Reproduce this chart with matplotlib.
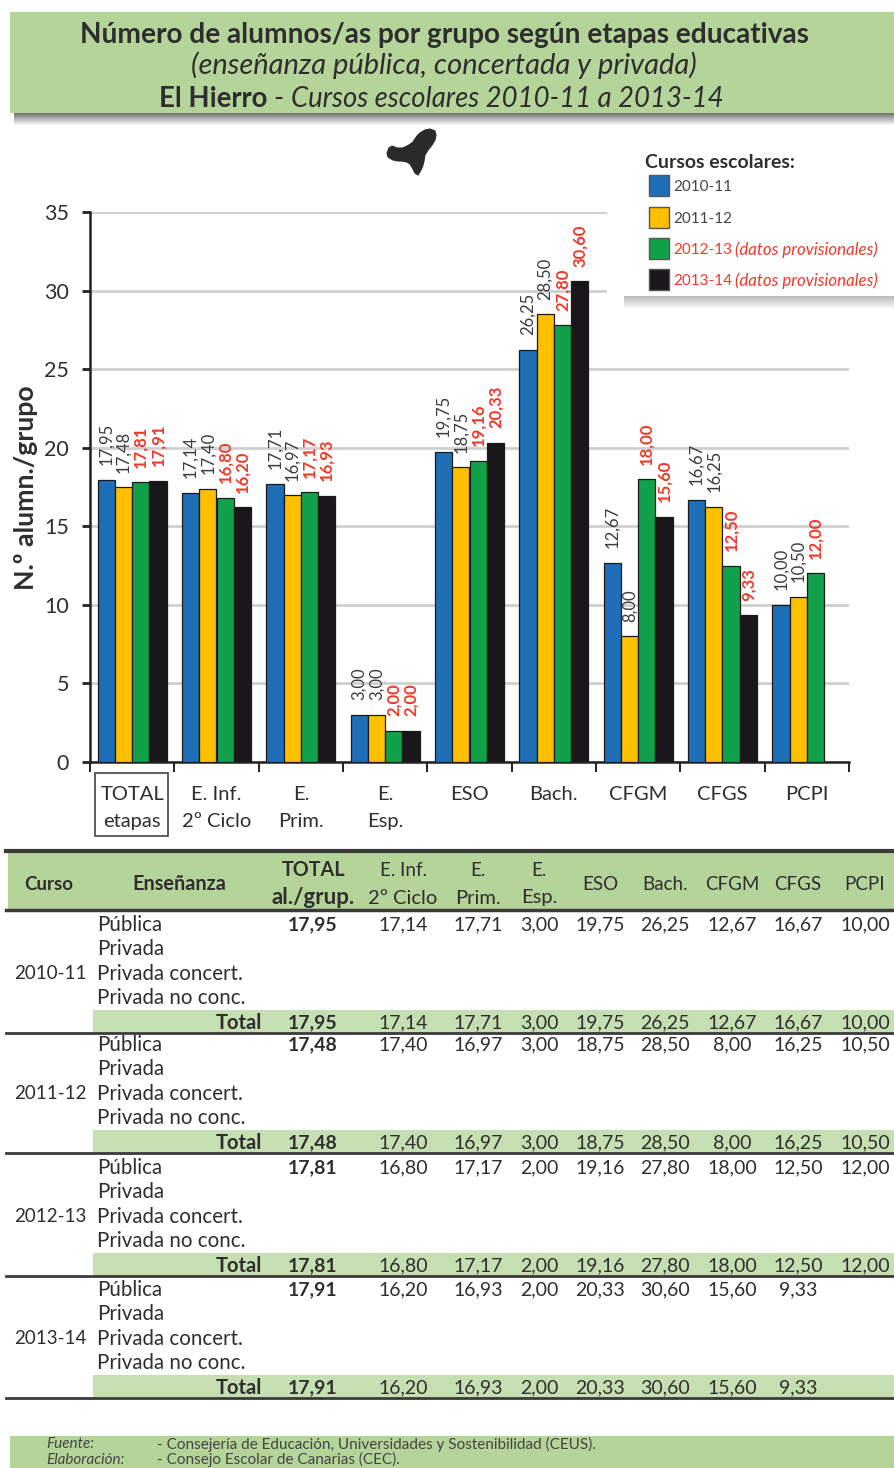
import numpy as np
import matplotlib
matplotlib.use("Agg")
import matplotlib.pyplot as plt
from matplotlib.patches import Rectangle, Polygon

plt.rcParams["font.family"] = ["Lato", "DejaVu Sans"]

# Data
cursos = ["2010-11", "2011-12", "2012-13", "2013-14"]
grupos = ["TOTAL\netapas", "E. Inf.\n2º Ciclo", "E.\nPrim.", "E.\nEsp.", "ESO", "Bach.", "CFGM", "CFGS", "PCPI"]
v_2010 = [17.95, 17.14, 17.71, 3.00, 19.75, 26.25, 12.67, 16.67, 10.00]
v_2011 = [17.48, 17.40, 16.97, 3.00, 18.75, 28.50, 8.00, 16.25, 10.50]
v_2012 = [17.81, 16.80, 17.17, 2.00, 19.16, 27.80, 18.00, 12.50, 12.00]
v_2013 = [17.91, 16.20, 16.93, 2.00, 20.33, 30.60, 15.60, 9.33, None]
series = [v_2010, v_2011, v_2012, v_2013]
colores = ["#1F6FB8", "#FFC000", "#12A14B", "#1A171B"]
ensenanzas = ["Pública", "Privada", "Privada concert.", "Privada no conc."]
cabecera = ["TOTAL\nal./grup.", "E. Inf.\n2º Ciclo", "E.\nPrim.", "E.\nEsp.", "ESO", "Bach.", "CFGM", "CFGS", "PCPI"]

VERDE = "#B5D49A"
VERDE2 = "#C6DFB2"
TXT = "#2E2E2E"
ROJO = "#EE3B2B"
W, H = 894, 1468

fig = plt.figure(figsize=(W / 100, H / 100), dpi=100)


def px_axes(x0, y0, x1, y1, **kw):
    return fig.add_axes([x0 / W, 1 - y1 / H, (x1 - x0) / W, (y1 - y0) / H], **kw)


# -------------------------------
# Chart
# -------------------------------
ax = px_axes(90, 212, 849, 762)
n = len(grupos)
x = np.arange(n)
ancho = 0.205
for i, vals in enumerate(series):
    for j, v in enumerate(vals):
        if v is None:
            continue
        xb = x[j] + (i - 1.5) * ancho
        ax.bar(xb, v, ancho, color=colores[i], edgecolor="#1A1A1A", linewidth=0.9, zorder=3)
        rojo = i >= 2
        ax.annotate(f"{v:.2f}".replace(".", ","), (xb, v), xytext=(0, 10.5), textcoords="offset points",
                    rotation=90, ha="center", va="bottom", fontsize=12,
                    fontweight="bold" if rojo else "normal", color=ROJO if rojo else "#3C3C3C",
                    zorder=4)

ax.set_xlim(-0.5, n - 0.5)
ax.set_ylim(0, 35)
ax.set_yticks(range(0, 40, 5))
ax.tick_params(axis="y", labelsize=15.5, length=6, width=2, color="#222222", labelcolor=TXT, pad=9)
ax.set_xticks(np.arange(n + 1) - 0.5)
ax.set_xticklabels([])
ax.tick_params(axis="x", which="major", length=7, width=1.4, color="#222222")
ax.set_xticks(x, minor=True)
labs = ax.set_xticklabels(grupos, minor=True, fontsize=14.5, color=TXT)
for t in labs:
    t.set_linespacing(1.72)
ax.tick_params(axis="x", which="minor", length=0, pad=17)
ax.grid(axis="y", color="#CFCFCF", linewidth=2, zorder=0)
ax.set_axisbelow(True)
for s in ["top", "right"]:
    ax.spines[s].set_visible(False)
ax.spines["left"].set_linewidth(1.8)
ax.spines["bottom"].set_linewidth(1.8)
ax.spines["left"].set_color("#222222")
ax.spines["bottom"].set_color("#222222")

# -------------------------------
# Overlay in pixel coordinates
# -------------------------------
ov = px_axes(0, 0, W, H, zorder=5)
ov.set_xlim(0, W)
ov.set_ylim(H, 0)
ov.axis("off")
ov.patch.set_alpha(0)


def rect(x0, y0, x1, y1, c, z=1, **kw):
    ov.add_patch(Rectangle((x0, y0), x1 - x0, y1 - y0, facecolor=c, edgecolor="none", zorder=z, **kw))


def sombra(x0, y0, x1, alto, ini=0.42):
    for k in range(alto):
        g = ini + (1 - ini) * (k + 1) / alto
        rect(x0, y0 + k, x1, y0 + k + 1, str(g))


ov.text(26, 488, "N.º alumn./grupo", rotation=90, ha="center", va="center", fontsize=19.3,
        fontweight="bold", color=TXT)
ov.add_patch(Rectangle((95, 773), 73, 63, facecolor="none", edgecolor="#444444", linewidth=1.2))

# title band
rect(10, 12, W, 113, VERDE, z=2)
sombra(14, 113, W, 13)
ov.text(444, 35, "Número de alumnos/as por grupo según etapas educativas", ha="center", va="center",
        fontsize=20.2, fontweight="bold", color=TXT, zorder=3)
ov.text(444, 65, "(enseñanza pública, concertada y privada)", ha="center", va="center",
        fontsize=21, style="italic", color=TXT, zorder=3)
ov.text(267, 99, "El Hierro", ha="right", va="center", fontsize=19.8, fontweight="bold", color=TXT, zorder=3)
ov.text(273, 99, "-", ha="left", va="center", fontsize=19.8, color=TXT, zorder=3)
ov.text(291, 99, "Cursos escolares 2010-11 a 2013-14", ha="left", va="center", fontsize=19.8,
        style="italic", color=TXT, zorder=3)

# island
isla = [(387, 153), (389, 148), (392, 146), (397, 148), (403, 148), (409, 145), (413, 142), (417, 136),
        (420, 133), (425, 130), (430, 129), (435, 131), (436, 135), (435, 140), (432, 145), (428, 150),
        (425, 155), (424, 161), (423, 165), (421, 170), (418, 175), (415, 173), (413, 169), (410, 164),
        (407, 162), (402, 161), (398, 161), (393, 160), (388, 157)]
ov.add_patch(Polygon(isla, closed=True, facecolor="#2A2A2A", edgecolor="#2A2A2A", linewidth=0.8, joinstyle="round"))

# legend
rect(607, 130, W, 300, "white", z=1)
sombra(624, 296, W, 14, ini=0.72)
rect(620, 137, W, 296, "white", z=2)
ov.text(645, 162, "Cursos escolares:", va="center", fontsize=14, fontweight="bold", color=TXT, zorder=3)
ley_y = [185, 217, 248, 279]
for c, col, y in zip(cursos, colores, ley_y):
    ov.add_patch(Rectangle((649, y - 10), 20, 21, facecolor=col, edgecolor="#555555", linewidth=1, zorder=3))
    if c in cursos[:2]:
        ov.text(673, y + 2, c, va="center", fontsize=11, color="#444444", zorder=3)
    else:
        ov.text(673, y + 2, c, va="center", fontsize=11, color=ROJO, zorder=3)
        ov.text(735, y + 2, "(datos provisionales)", va="center", fontsize=12.2, style="italic", color=ROJO, zorder=3)

# -------------------------------
# Table
# -------------------------------
col_x = [313, 403, 478, 539, 600, 665, 732, 798, 865]
rect(8, 850, W, 910, VERDE, z=1)
ov.plot([6, W], [851, 851], color="#3A3A3A", lw=3)
ov.plot([6, W], [910, 910], color="#3A3A3A", lw=2.5)
ov.text(49, 884, "Curso", ha="center", va="center", fontsize=13.5, fontweight="bold", color=TXT)
ov.text(179, 884, "Enseñanza", ha="center", va="center", fontsize=14.3, fontweight="bold", color=TXT)
for k, (cx, lab) in enumerate(zip(col_x, cabecera)):
    w = "bold" if k == 0 else "normal"
    if "\n" in lab:
        a, b = lab.split("\n")
        ov.text(cx, 870, a, ha="center", va="center", fontsize=14.2 if k == 0 else 13.5, fontweight=w, color=TXT)
        ov.text(cx, 898, b, ha="center", va="center", fontsize=16 if k == 0 else 14.5, fontweight=w, color=TXT)
    else:
        ov.text(cx, 884, lab, ha="center", va="center", fontsize=13.5, color=TXT)

fila0 = [924, 1044, 1167, 1289]
for c, vals, y0 in zip(cursos, series, fila0):
    ys = [y0 + 24.4 * k for k in range(5)]
    rect(93, ys[4] - 12, W, ys[4] + 11, VERDE2)
    ov.plot([6, W], [ys[4] + 11] * 2, color="#3A3A3A", lw=2)
    ov.text(50, ys[2] + 1, c, ha="center", va="center", fontsize=13.5, color=TXT)
    for e, y in zip(ensenanzas, ys):
        ov.text(97, y + 1, e, ha="left", va="center", fontsize=14.8, color=TXT)
    ov.text(262, ys[4] + 1, "Total", ha="right", va="center", fontsize=14.5, fontweight="bold", color=TXT)
    for cx, v in zip(col_x, vals):
        if v is None:
            continue
        s = f"{v:.2f}".replace(".", ",")
        negrita = cx == col_x[0]
        ov.text(cx, y0 + 1, s, ha="center", va="center", fontsize=14,
                fontweight="bold" if negrita else "normal", color=TXT)
        ov.text(cx, ys[4] + 1, s, ha="center", va="center", fontsize=14,
                fontweight="bold" if negrita else "normal", color=TXT)

# footer
rect(10, 1436, W, H, VERDE)
ov.text(46, 1444, "Fuente:", va="center", fontsize=11, style="italic", color="#444444")
ov.text(46, 1459.5, "Elaboración:", va="center", fontsize=11, style="italic", color="#444444")
ov.text(157, 1444, "- Consejería de Educación, Universidades y Sostenibilidad (CEUS).", va="center",
        fontsize=11, color="#444444")
ov.text(157, 1459.5, "- Consejo Escolar de Canarias (CEC).", va="center", fontsize=11, color="#444444")

fig.savefig("out.png", dpi=100)
